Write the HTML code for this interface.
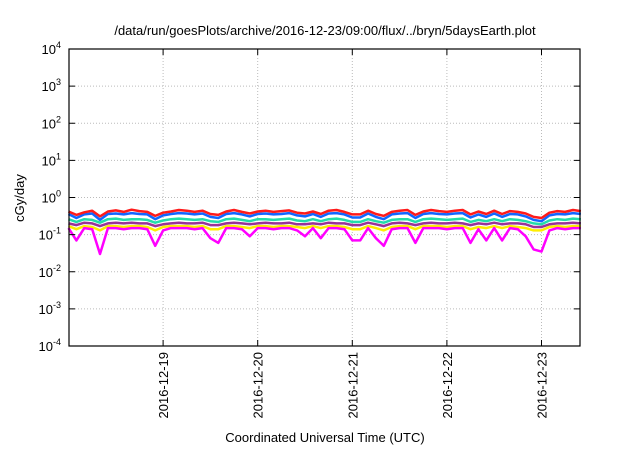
<!DOCTYPE html>
<html><head><meta charset="utf-8"><style>
body{margin:0;background:#fff;}
svg text{font-family:"Liberation Sans",sans-serif;fill:#000;}
</style></head><body>
<svg id="chart" width="640" height="448" viewBox="0 0 640 448" xmlns="http://www.w3.org/2000/svg">
<rect width="640" height="448" fill="#fff"/>
<text x="325" y="35" font-size="13" text-anchor="middle">/data/run/goesPlots/archive/2016-12-23/09:00/flux/../bryn/5daysEarth.plot</text>
<text transform="translate(24,198) rotate(-90)" font-size="13" text-anchor="middle">cGy/day</text>
<text x="325" y="442" font-size="13" text-anchor="middle">Coordinated Universal Time (UTC)</text>
<g id="grid"></g><g id="series"></g><g id="axes"></g>
</svg>
<script>
const dayLabels=["2016-12-19","2016-12-20","2016-12-21","2016-12-22","2016-12-23"];
const yExps=[-4,-3,-2,-1,0,1,2,3,4];
const stepHours=2;
const magenta=[0.15,0.07,0.15,0.14,0.03,0.15,0.15,0.14,0.15,0.15,0.14,0.05,0.13,0.15,0.15,0.15,0.14,0.15,0.08,0.06,0.15,0.15,0.14,0.09,0.15,0.15,0.14,0.15,0.15,0.13,0.09,0.15,0.08,0.15,0.15,0.14,0.07,0.07,0.15,0.08,0.05,0.14,0.15,0.15,0.06,0.15,0.15,0.15,0.14,0.15,0.15,0.06,0.14,0.07,0.15,0.07,0.15,0.14,0.09,0.04,0.035,0.13,0.15,0.14,0.15,0.15];
const yellow=[0.17,0.14,0.17,0.16,0.13,0.17,0.17,0.16,0.17,0.17,0.16,0.13,0.16,0.17,0.17,0.17,0.16,0.17,0.14,0.14,0.17,0.17,0.16,0.15,0.17,0.17,0.16,0.17,0.17,0.16,0.15,0.17,0.15,0.17,0.17,0.16,0.14,0.14,0.17,0.15,0.13,0.16,0.17,0.17,0.14,0.17,0.17,0.17,0.16,0.17,0.17,0.14,0.16,0.15,0.17,0.15,0.17,0.16,0.15,0.13,0.13,0.16,0.17,0.16,0.17,0.17];
const purple=[0.2,0.18,0.21,0.2,0.17,0.2,0.21,0.2,0.21,0.2,0.2,0.17,0.19,0.2,0.21,0.2,0.2,0.21,0.18,0.18,0.2,0.21,0.2,0.19,0.2,0.21,0.2,0.2,0.21,0.19,0.19,0.2,0.19,0.21,0.2,0.2,0.18,0.18,0.21,0.19,0.17,0.2,0.21,0.2,0.18,0.2,0.21,0.2,0.2,0.21,0.2,0.18,0.2,0.19,0.21,0.19,0.2,0.2,0.19,0.16,0.16,0.19,0.2,0.2,0.21,0.2];
const teal=[0.26,0.22,0.26,0.25,0.21,0.26,0.27,0.25,0.26,0.26,0.25,0.21,0.24,0.26,0.27,0.26,0.25,0.26,0.23,0.22,0.26,0.27,0.25,0.23,0.26,0.26,0.25,0.26,0.27,0.24,0.23,0.26,0.23,0.26,0.27,0.25,0.22,0.22,0.26,0.23,0.21,0.25,0.26,0.26,0.22,0.26,0.27,0.26,0.25,0.26,0.27,0.22,0.25,0.23,0.26,0.23,0.26,0.25,0.23,0.2,0.19,0.24,0.26,0.25,0.27,0.26];
const blue=[0.36,0.28,0.35,0.37,0.25,0.36,0.37,0.35,0.38,0.36,0.35,0.26,0.33,0.36,0.38,0.37,0.35,0.37,0.3,0.28,0.36,0.38,0.35,0.31,0.36,0.37,0.35,0.36,0.38,0.33,0.31,0.36,0.3,0.37,0.38,0.35,0.29,0.29,0.37,0.3,0.26,0.35,0.37,0.38,0.28,0.36,0.38,0.36,0.35,0.37,0.38,0.29,0.35,0.3,0.37,0.3,0.36,0.35,0.31,0.25,0.23,0.33,0.36,0.35,0.38,0.36];
const red=[0.42,0.34,0.4,0.44,0.31,0.42,0.45,0.41,0.47,0.43,0.41,0.32,0.39,0.42,0.46,0.44,0.41,0.44,0.36,0.34,0.42,0.46,0.41,0.37,0.42,0.44,0.41,0.43,0.45,0.39,0.37,0.42,0.36,0.44,0.46,0.41,0.35,0.35,0.44,0.36,0.32,0.41,0.44,0.46,0.34,0.42,0.46,0.43,0.41,0.44,0.46,0.35,0.42,0.36,0.44,0.36,0.43,0.41,0.37,0.3,0.28,0.39,0.43,0.41,0.46,0.43];
const seriesList=[["magenta",magenta,"#ff00ff"],["yellow",yellow,"#ffee00"],["purple",purple,"#993399"],["teal",teal,"#22ddaa"],["red",red,"#ff1a1a"],["blue",blue,"#1166ff"]];
const L=69,R=580,T=49,B=346,pxPerDay=94.6,x0=68.5;
const xs=h=>x0+h/24*pxPerDay;
const ys=v=>B-(Math.log10(v)+4)/8*(B-T);
const NS="http://www.w3.org/2000/svg";
function mk(tag,attrs,parent){const e=document.createElementNS(NS,tag);for(const k in attrs)e.setAttribute(k,attrs[k]);parent.appendChild(e);return e;}
const grid=document.getElementById('grid'),axes=document.getElementById('axes'),ser=document.getElementById('series');
yExps.forEach(p=>{
  const y=ys(Math.pow(10,p));
  if(p>-4&&p<4){const g=mk('line',{x1:L,x2:R,y1:y,y2:y,stroke:'#bbb','stroke-dasharray':'1,2','stroke-width':1},grid);
  
  }
  mk('line',{x1:L,x2:L+6,y1:y,y2:y,stroke:'#000'},axes);
  mk('line',{x1:R,x2:R-6,y1:y,y2:y,stroke:'#000'},axes);
  const t=mk('text',{x:L-8,y:y+5,'font-size':13,'text-anchor':'end'},axes);
  
  
  t.textContent='10';
  const s=mk('tspan',{dy:-6,'font-size':9},t);s.textContent=String(p);
});
dayLabels.forEach((d,i)=>{
  const x=xs((i+1)*24);
  const g=mk('line',{x1:x,x2:x,y1:T,y2:B,stroke:'#bbb','stroke-dasharray':'1,2'},grid);
  
  
  mk('line',{x1:x,x2:x,y1:B,y2:B-6,stroke:'#000'},axes);
  mk('line',{x1:x,x2:x,y1:T,y2:T+6,stroke:'#000'},axes);
  const t=mk('text',{transform:`translate(${x+5},352) rotate(-90)`,'font-size':13,'text-anchor':'end'},axes);
  
  
  t.textContent=d;
});
const frame=mk('rect',{x:L,y:T,width:R-L,height:B-T,fill:'none',stroke:'#000','stroke-width':1.2},axes);


seriesList.slice().reverse().forEach(([n,arr,c])=>{
  const pts=arr.map((v,i)=>xs(i*stepHours).toFixed(1)+','+ys(v).toFixed(1)).join(' ');
  const pl=mk('polyline',{points:pts,fill:'none',stroke:c,'stroke-width':2.5,'stroke-linejoin':'round'},ser);
  
  
});
</script>
</body></html>
